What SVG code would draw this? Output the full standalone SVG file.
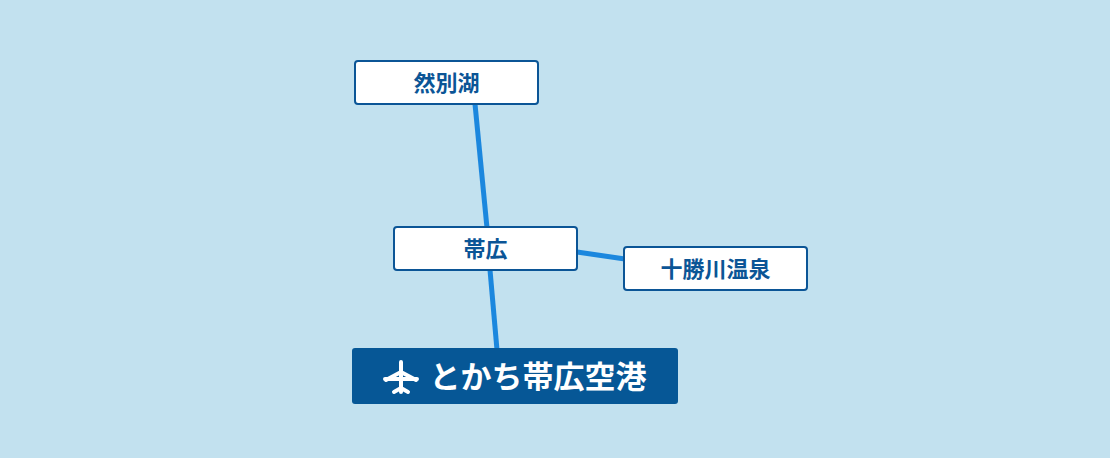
<svg xmlns="http://www.w3.org/2000/svg" width="1110" height="458" viewBox="0 0 1110 458">
<style>
.n rect{fill:#fff;stroke:#0b5596;stroke-width:2}
.n text{font-family:"Noto Sans CJK JP",sans-serif;font-weight:bold;font-size:22px;fill:#0b5596;text-anchor:middle}
.c line{stroke:#1b87de;stroke-width:5}
</style>
<rect width="1110" height="458" fill="#c2e1ef"/>
<g id="connectors" class="c">
<line x1="475" y1="104" x2="487" y2="228"/>
<line x1="490" y1="270" x2="497" y2="350"/>
<line x1="577" y1="252" x2="625" y2="259"/>
</g>
<g id="n-shikaribetsu" class="n"><rect x="355" y="61" width="183" height="43" rx="3"/><text x="446.5" y="91">然別湖</text></g>
<g id="n-obihiro" class="n"><rect x="394" y="227" width="183" height="43" rx="3"/><text x="485.5" y="257">帯広</text></g>
<g id="n-tokachigawa" class="n"><rect x="624" y="247" width="183" height="43" rx="3"/><text x="715.5" y="277">十勝川温泉</text></g>
<g id="n-airport">
<rect x="352" y="348" width="326" height="56" rx="3" fill="#065796"/>
<path d="M401 362 L401 392 M385 379 L417 379 M401 372 L386 380 M401 372 L416 380 M394 392 L401 388 L408 392" stroke="#fff" stroke-width="4" stroke-linecap="round" stroke-linejoin="round" fill="none"/>
<text x="538" y="388" font-family="'Noto Sans CJK JP',sans-serif" font-weight="bold" font-size="31" fill="#fff" text-anchor="middle">とかち帯広空港</text>
</g>
</svg>
